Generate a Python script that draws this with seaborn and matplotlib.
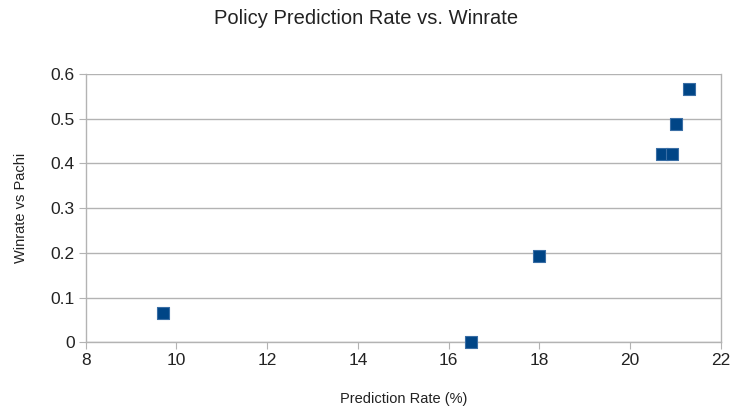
import pandas as pd
import seaborn as sns
import matplotlib.pyplot as plt

prediction_rate = [9.7, 16.5, 18.0, 20.7, 20.93, 21.01, 21.31]
winrate = [0.065, 0.0, 0.193, 0.422, 0.422, 0.488, 0.567]

df = pd.DataFrame({"Prediction Rate (%)": prediction_rate, "Winrate vs Pachi": winrate})

sns.set_style("white")
plt.rcParams['font.family'] = ['Liberation Sans', 'DejaVu Sans']

fig = plt.figure(figsize=(7.32, 4.13), dpi=100)
ax = fig.add_axes([0.117, 0.171, 0.8677, 0.650])

sns.scatterplot(data=df, x="Prediction Rate (%)", y="Winrate vs Pachi", ax=ax,
                marker="s", s=82, color="#004586", edgecolor="#3a6ea5", linewidth=0.8,
                zorder=3, clip_on=False)

ax.set_xlim(8, 22)
ax.set_ylim(0, 0.6)
ax.set_xticks(range(8, 23, 2))
ax.set_yticks([0, 0.1, 0.2, 0.3, 0.4, 0.5, 0.6])
ax.set_yticklabels(["0", "0.1", "0.2", "0.3", "0.4", "0.5", "0.6"])
ax.grid(axis="y", color="#b3b3b3", linewidth=1)
ax.set_axisbelow(True)
for side in ["left", "bottom", "right", "top"]:
    ax.spines[side].set_color("#b3b3b3")
    ax.spines[side].set_linewidth(1)
ax.spines["top"].set_visible(False)
ax.tick_params(axis="both", length=5, color="#b3b3b3", labelsize=12.5, labelcolor="#222222",
               direction="out", pad=3, left=True, bottom=True)

ax.set_xlabel("Prediction Rate (%)", fontsize=10.5, color="#222222", labelpad=17)
ax.set_ylabel("Winrate vs Pachi", fontsize=10.5, color="#222222", labelpad=16)
fig.suptitle("Policy Prediction Rate vs. Winrate", fontsize=14.5, color="#222222", y=0.977)

fig.savefig("out.png", dpi=100)
